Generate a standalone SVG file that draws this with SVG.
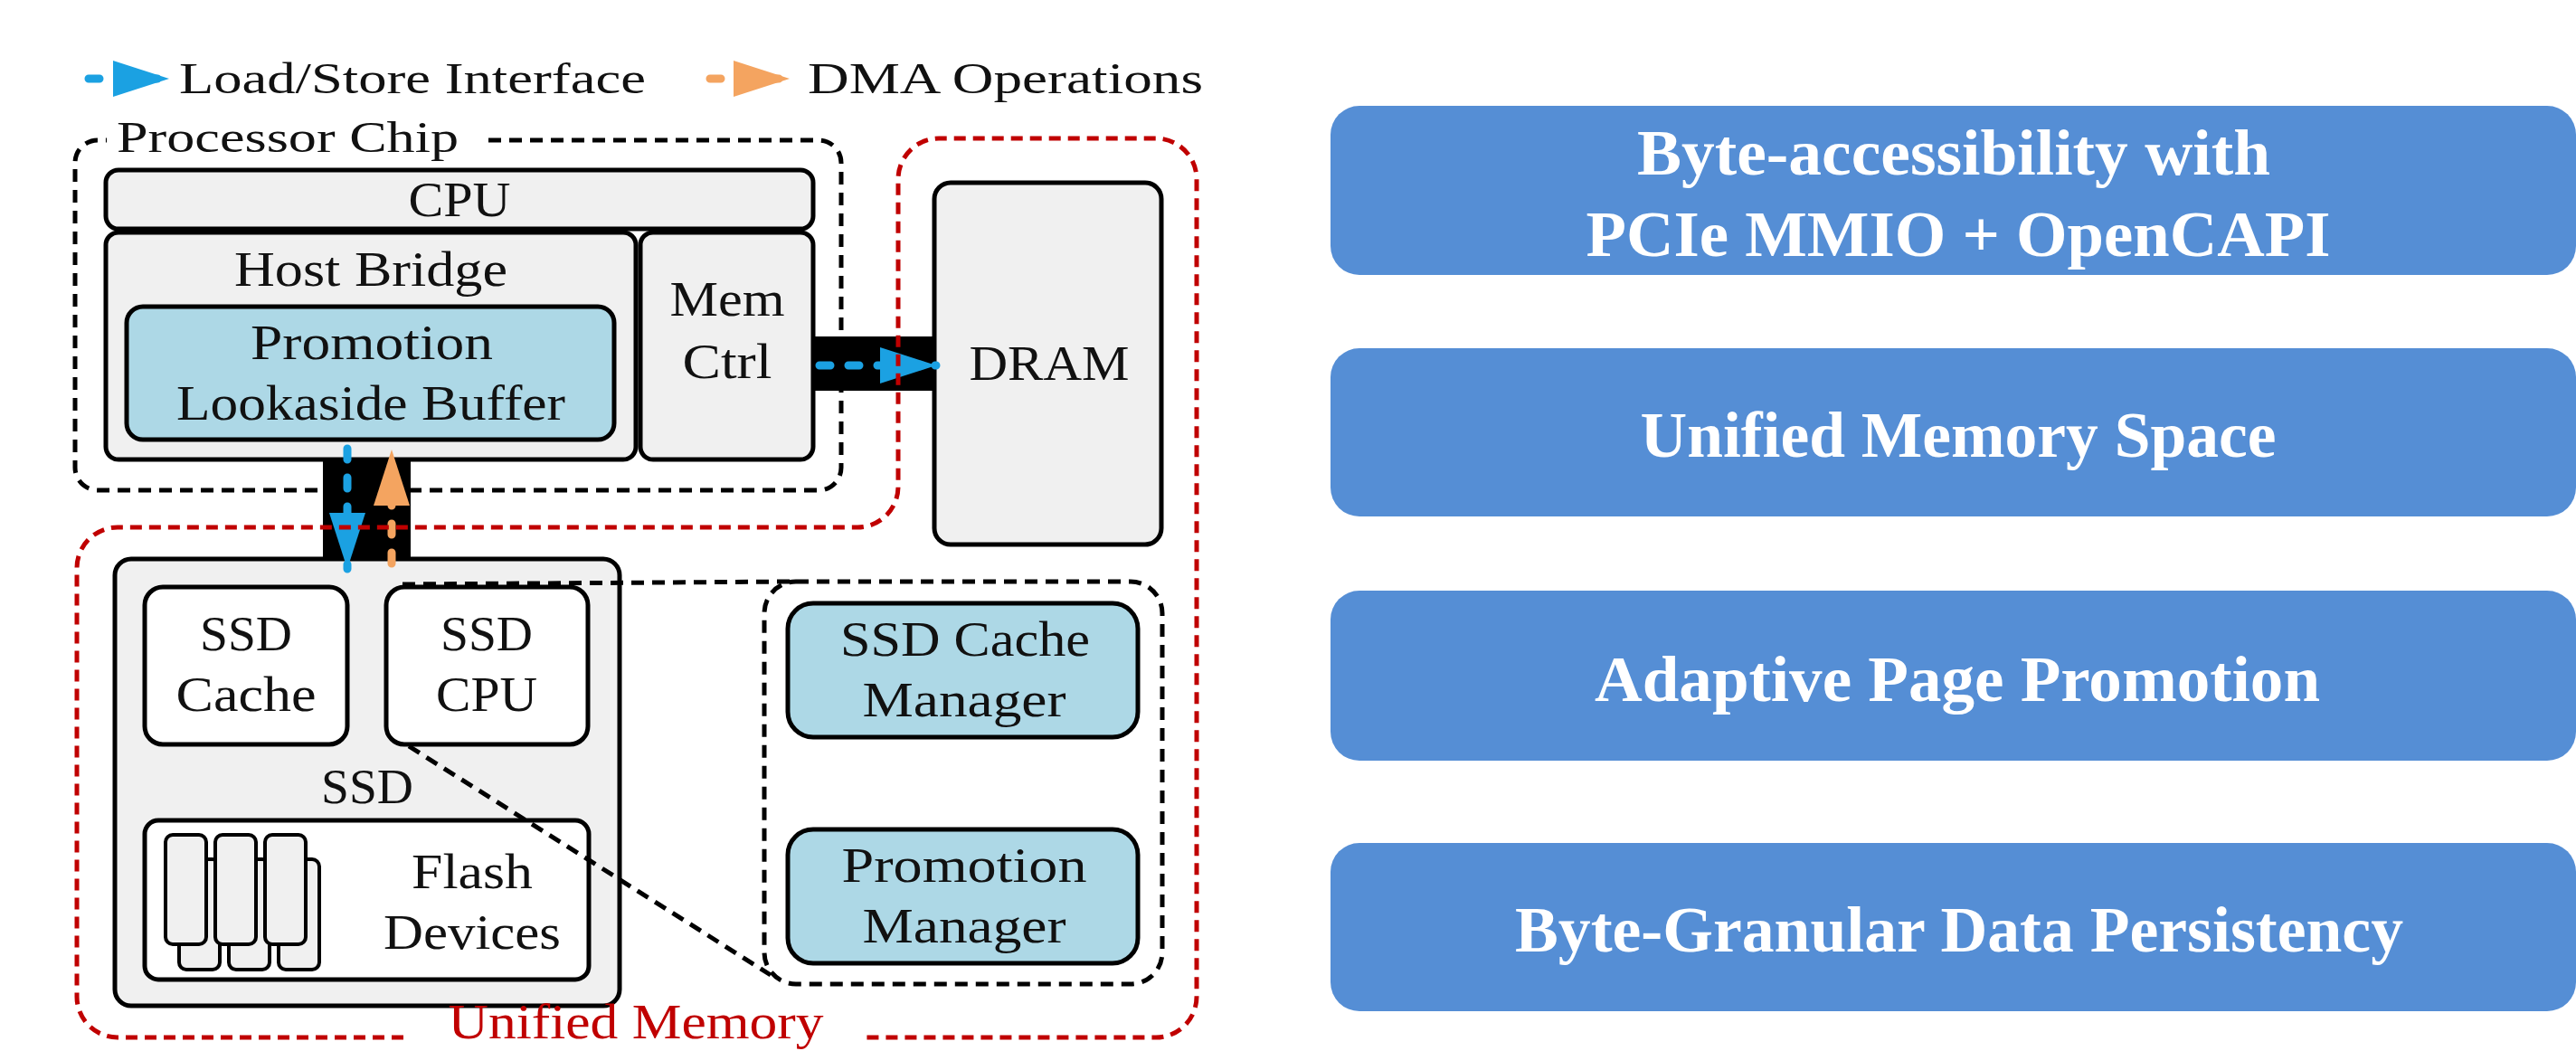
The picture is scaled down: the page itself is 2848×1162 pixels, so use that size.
<svg xmlns="http://www.w3.org/2000/svg" width="2848" height="1162" viewBox="0 0 2848 1162">
<defs>
<style>
.box{stroke:#000;stroke-width:5}
.gray{fill:#F0F0F0}
.white{fill:#FFFFFF}
.lblue{fill:#ADD8E6}
.lbl{font-family:"Liberation Serif",serif;font-size:54px;fill:#111;text-anchor:middle}
.leg{font-family:"Liberation Serif",serif;font-size:48px;fill:#111}
.feat{fill:#558ED5}
.ft{font-family:"Liberation Serif",serif;font-weight:bold;font-size:72px;fill:#FFFFFF;text-anchor:middle}
.bdash{fill:none;stroke:#000;stroke-width:5;stroke-dasharray:14 9}
.rdash{fill:none;stroke:#C00000;stroke-width:5;stroke-dasharray:13 8}
.bar{fill:#000}
.chip{fill:#F0F0F0;stroke:#000;stroke-width:4}
.bl{fill:none;stroke:#1BA1E2;stroke-width:9;stroke-linecap:round;stroke-dasharray:12 20}
.or{fill:none;stroke:#F4A460;stroke-width:9;stroke-linecap:round;stroke-dasharray:12 20}
.red{fill:#C00000}
</style>
<marker id="ab" markerUnits="userSpaceOnUse" markerWidth="62" markerHeight="42" refX="62" refY="21" orient="auto">
<path d="M0,1 L62,21 L0,41 Z" fill="#1BA1E2"/>
</marker>
<marker id="ao" markerUnits="userSpaceOnUse" markerWidth="62" markerHeight="42" refX="62" refY="21" orient="auto">
<path d="M0,1 L62,21 L0,41 Z" fill="#F4A460"/>
</marker>
</defs>
<rect width="2848" height="1162" fill="#FFFFFF"/>

<g id="legend">
<line class="bl" x1="98" y1="87" x2="187" y2="87" marker-end="url(#ab)"/>
<text class="leg" x="198" y="103" textLength="516" lengthAdjust="spacingAndGlyphs">Load/Store Interface</text>
<line class="or" x1="785" y1="87" x2="873" y2="87" marker-end="url(#ao)"/>
<text class="leg" x="893" y="103" textLength="437" lengthAdjust="spacingAndGlyphs">DMA Operations</text>
</g>

<g id="features">
<g id="feat-byte-access">
<rect class="feat" x="1471" y="117" width="1377" height="187" rx="32"/>
<text class="ft" x="2160" y="193" textLength="700" lengthAdjust="spacingAndGlyphs">Byte-accessibility with</text>
<text class="ft" x="2165" y="283" textLength="823" lengthAdjust="spacingAndGlyphs">PCIe MMIO + OpenCAPI</text>
</g>
<g id="feat-unified">
<rect class="feat" x="1471" y="385" width="1377" height="186" rx="32"/>
<text class="ft" x="2165" y="505" textLength="703" lengthAdjust="spacingAndGlyphs">Unified Memory Space</text>
</g>
<g id="feat-adaptive">
<rect class="feat" x="1471" y="653" width="1377" height="188" rx="32"/>
<text class="ft" x="2164" y="775" textLength="802" lengthAdjust="spacingAndGlyphs">Adaptive Page Promotion</text>
</g>
<g id="feat-persist">
<rect class="feat" x="1471" y="932" width="1377" height="186" rx="32"/>
<text class="ft" x="2166" y="1052" textLength="982" lengthAdjust="spacingAndGlyphs">Byte-Granular Data Persistency</text>
</g>
</g>

<g id="processor-chip">
<path class="bdash" d="M540 155 H905 A25 25 0 0 1 930 180 V517 A25 25 0 0 1 905 542 H108 A25 25 0 0 1 83 517 V180 A25 25 0 0 1 108 155 H118"/>
<text class="leg" x="129" y="168" font-size="46" textLength="378" lengthAdjust="spacingAndGlyphs">Processor Chip</text>
</g>

<g id="cpu">
<rect class="box gray" x="117" y="188" width="782" height="65" rx="14"/>
<text class="lbl" x="508" y="239" textLength="113" lengthAdjust="spacingAndGlyphs">CPU</text>
</g>
<g id="host-bridge">
<rect class="box gray" x="117" y="257" width="586" height="251" rx="14"/>
<text class="lbl" x="410" y="316" textLength="302" lengthAdjust="spacingAndGlyphs">Host Bridge</text>
</g>
<g id="plb">
<rect class="box lblue" x="140" y="339" width="539" height="147" rx="18"/>
<text class="lbl" x="411" y="397" textLength="268" lengthAdjust="spacingAndGlyphs">Promotion</text>
<text class="lbl" x="410" y="464" textLength="430" lengthAdjust="spacingAndGlyphs">Lookaside Buffer</text>
</g>
<g id="mem-ctrl">
<rect class="box gray" x="708" y="257" width="191" height="251" rx="14"/>
<text class="lbl" x="804" y="349" textLength="127" lengthAdjust="spacingAndGlyphs">Mem</text>
<text class="lbl" x="804" y="418" textLength="99" lengthAdjust="spacingAndGlyphs">Ctrl</text>
</g>
<g id="dram">
<rect class="box gray" x="1033" y="202" width="251" height="400" rx="18"/>
<text class="lbl" x="1160" y="420" textLength="177" lengthAdjust="spacingAndGlyphs">DRAM</text>
</g>

<g id="ssd">
<rect class="box gray" x="127" y="618" width="558" height="494" rx="18"/>
<text class="lbl" x="406" y="888" textLength="102" lengthAdjust="spacingAndGlyphs">SSD</text>
</g>
<g id="ssd-cache">
<rect class="box white" x="160" y="649" width="224" height="174" rx="20"/>
<text class="lbl" x="272" y="719" textLength="102" lengthAdjust="spacingAndGlyphs">SSD</text>
<text class="lbl" x="272" y="786" textLength="155" lengthAdjust="spacingAndGlyphs">Cache</text>
</g>
<g id="ssd-cpu">
<rect class="box white" x="427" y="649" width="223" height="174" rx="20"/>
<text class="lbl" x="538" y="719" textLength="102" lengthAdjust="spacingAndGlyphs">SSD</text>
<text class="lbl" x="538" y="786" textLength="112" lengthAdjust="spacingAndGlyphs">CPU</text>
</g>
<g id="flash">
<rect class="box white" x="160" y="907" width="491" height="176" rx="15"/>
<rect class="chip" x="198" y="950" width="45" height="122" rx="8"/>
<rect class="chip" x="253" y="950" width="45" height="122" rx="8"/>
<rect class="chip" x="308" y="950" width="45" height="122" rx="8"/>
<rect class="chip" x="183" y="923" width="45" height="121" rx="8"/>
<rect class="chip" x="238" y="923" width="45" height="121" rx="8"/>
<rect class="chip" x="293" y="923" width="45" height="121" rx="8"/>
<text class="lbl" x="522" y="982" textLength="134" lengthAdjust="spacingAndGlyphs">Flash</text>
<text class="lbl" x="522" y="1049" textLength="196" lengthAdjust="spacingAndGlyphs">Devices</text>
</g>

<g id="ssd-cpu-detail">
<rect class="bdash" x="845" y="643" width="440" height="445" rx="35"/>
</g>
<g id="ssd-cache-manager">
<rect class="box lblue" x="871" y="667" width="387" height="148" rx="28"/>
<text class="lbl" x="1067" y="725" textLength="276" lengthAdjust="spacingAndGlyphs">SSD Cache</text>
<text class="lbl" x="1066" y="792" textLength="225" lengthAdjust="spacingAndGlyphs">Manager</text>
</g>
<g id="promotion-manager">
<rect class="box lblue" x="871" y="917" width="387" height="148" rx="28"/>
<text class="lbl" x="1066" y="975" textLength="271" lengthAdjust="spacingAndGlyphs">Promotion</text>
<text class="lbl" x="1066" y="1042" textLength="225" lengthAdjust="spacingAndGlyphs">Manager</text>
</g>

<g id="connectors">
<rect class="bar" x="899" y="372" width="134" height="60"/>
<rect class="bar" x="357" y="506" width="97" height="114"/>
<line class="bdash" x1="445" y1="646" x2="875" y2="643"/>
<line class="bdash" x1="452" y1="825" x2="852" y2="1078"/>
<line class="bl" x1="906" y1="404" x2="1035" y2="404" marker-end="url(#ab)"/>
<line class="bl" x1="384" y1="496" x2="384" y2="629" marker-end="url(#ab)"/>
<line class="or" x1="433" y1="623" x2="433" y2="497" marker-end="url(#ao)"/>
</g>

<g id="unified-memory">
<path class="rdash" d="M446 1147 H130 A45 45 0 0 1 85 1102 V628 A45 45 0 0 1 130 583 H948 A45 45 0 0 0 993 538 V198 A45 45 0 0 1 1038 153 H1278 A45 45 0 0 1 1323 198 V1102 A45 45 0 0 1 1278 1147 H951"/>
<text class="lbl red" x="703" y="1148" textLength="415" lengthAdjust="spacingAndGlyphs">Unified Memory</text>
</g>
</svg>
